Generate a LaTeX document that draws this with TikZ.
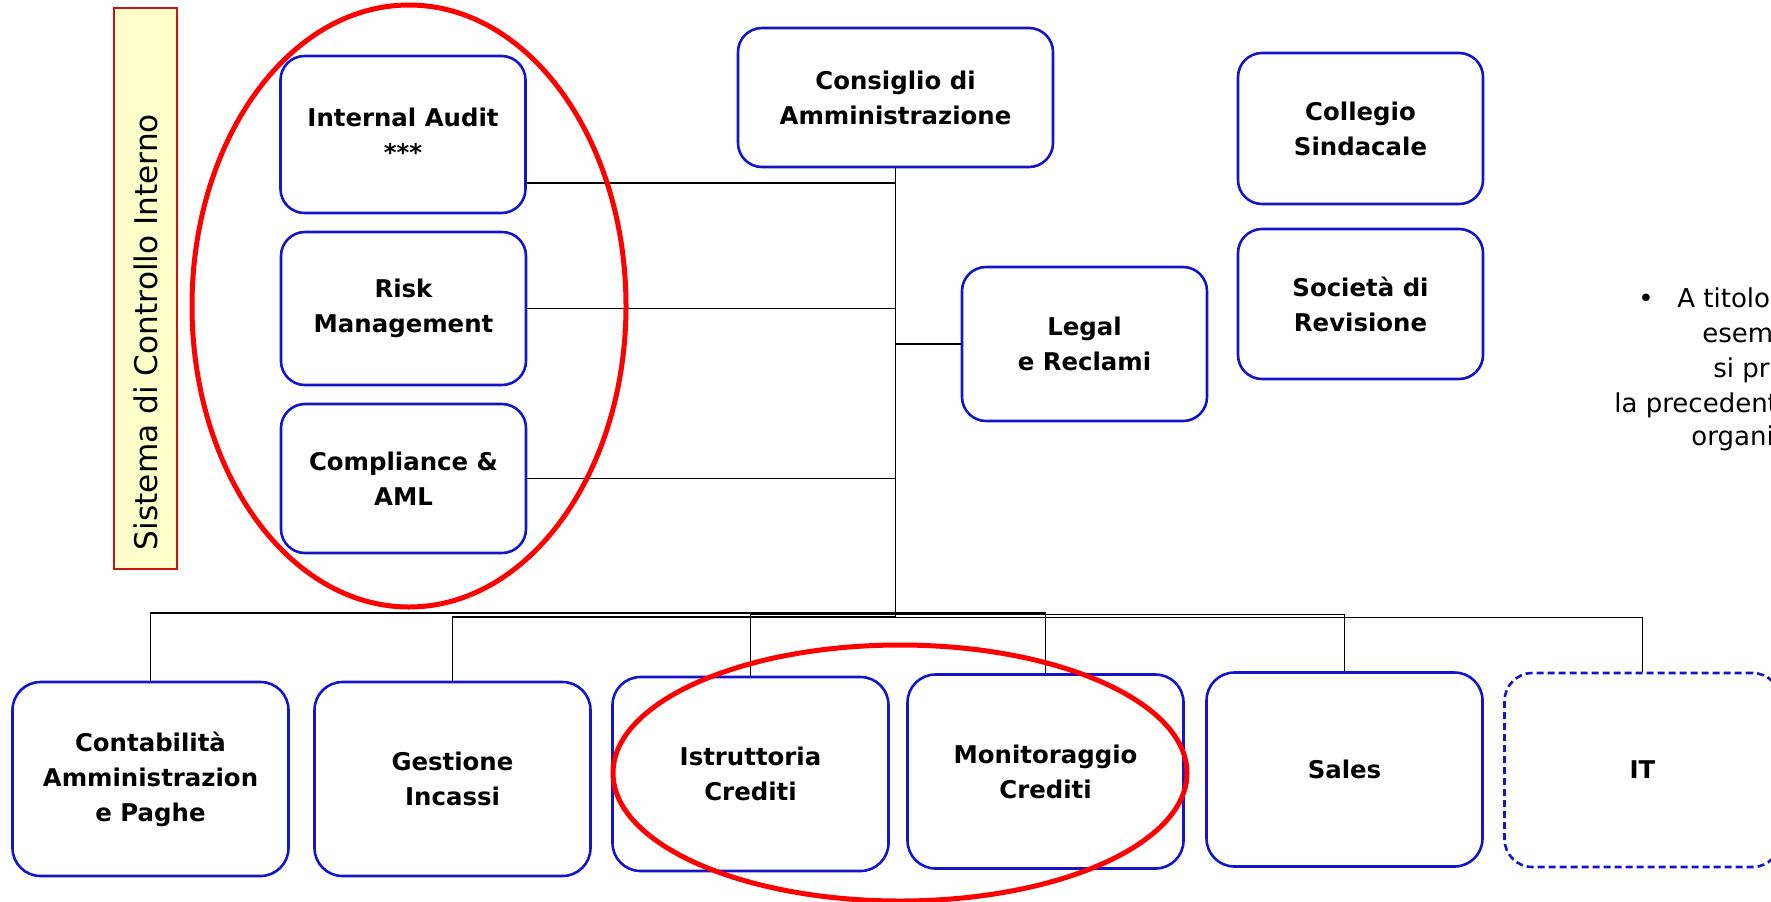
\documentclass[tikz,border=0pt]{standalone}
\usepackage{fontspec}
\setmainfont{DejaVu Sans}
\definecolor{unitblue}{RGB}{20,20,200}
\definecolor{ringred}{RGB}{255,0,0}
\definecolor{labelfill}{RGB}{255,255,204}
\definecolor{labeldraw}{RGB}{200,20,20}
\begin{document}
\begin{tikzpicture}[x=0.5pt,y=-0.5pt,
  unit/.style={draw=unitblue, line width=1.3pt, rounded corners=12pt, fill=white,
    align=center, inner sep=0pt, font=\bfseries\fontsize{12.2}{17.5}\selectfont},
  topunit/.style={unit, minimum width=122.5pt},
  lowunit/.style={unit, rounded corners=14pt, minimum width=138pt, minimum height=97pt},
  link/.style={draw=black, line width=0.9pt},
  ring/.style={draw=ringred, line width=2.5pt},
  note/.style={anchor=base west, inner sep=0pt, font=\fontsize{13}{17}\selectfont}]
\useasboundingbox (0,0) rectangle (1771,901);

% vertical label of the internal control system
\node[draw=labeldraw, line width=0.8pt, fill=labelfill, minimum width=31.5pt,
  minimum height=280.5pt, inner sep=0pt] (scilabel) at (145.5,288.5) {};
\node[rotate=90, inner sep=0pt, font=\fontsize{15.6}{18}\selectfont] (scitext) at (146,332)
  {Sistema di Controllo Interno};

% control functions
\node[topunit, minimum height=78.5pt] (ia) at (403,134.5) {Internal Audit\\***};
\node[topunit, minimum height=76.5pt] (rm) at (403.5,308.5) {Risk\\Management};
\node[topunit, minimum height=74.5pt] (ca) at (403.5,478.5) {Compliance \&\\AML};

% governing bodies
\node[unit, minimum width=157.5pt, minimum height=69.5pt] (cda) at (895.5,97.5)
  {Consiglio di\\Amministrazione};
\node[topunit, minimum height=75.5pt] (cs) at (1360.5,128.5) {Collegio\\Sindacale};
\node[topunit, minimum height=75pt] (sr) at (1360.5,304) {Società di\\Revisione};
\node[topunit, minimum height=77pt] (lr) at (1084.5,344) {Legal\\e Reclami};

% operating units
\node[lowunit] (co) at (150.5,779) {Contabilità\\Amministrazion\\e Paghe};
\node[lowunit] (gi) at (452.5,779) {Gestione\\Incassi};
\node[lowunit] (ic) at (750.5,774) {Istruttoria\\Crediti};
\node[lowunit] (mc) at (1045.5,771.5) {Monitoraggio\\Crediti};
\node[lowunit] (sa) at (1344.5,769.5) {Sales};
\node[lowunit, dashed, dash pattern=on 3.5pt off 2pt] (it) at (1642.5,770) {IT};

% staff connectors
\coordinate (iajoin) at (895.5,183);
\draw[link] (ia.east |- iajoin) -- (iajoin);
\draw[link] (rm.east) -- (rm.east -| cda.south);
\draw[link] (ca.east) -- (ca.east -| cda.south);
\draw[link] (lr.west) -- (lr.west -| cda.south);
\coordinate (trunkend) at (895.5,616);
\draw[link] (cda.south) -- (trunkend);

% bus to the operating units
\coordinate (bco) at (895.5,613);
\coordinate (bgi) at (895.5,617);
\coordinate (bic) at (895.5,614);
\coordinate (bmc) at (895.5,613);
\coordinate (bsa) at (895.5,614.5);
\coordinate (bit) at (895.5,617.5);
\draw[link] (bco) -| (co.north);
\draw[link] (bgi) -| (gi.north);
\draw[link] (bic) -| (ic.north);
\draw[link] (bmc) -| (mc.north);
\draw[link] (bsa) -| (sa.north);
\draw[link] (bit) -| (it.north);

% highlight rings
\draw[ring] (409,306) ellipse [x radius=217, y radius=301];
\draw[ring] (900,773) ellipse [x radius=287, y radius=128];

% side note, running past the right edge
\node[note] (n0) at (1638,307) {•};
\node[note] (n1) at (1677,307) {A titolo};
\node[note] (n2) at (1702,342) {esem};
\node[note] (n3) at (1713,377) {si pr};
\node[note] (n4) at (1614,412) {la precedent};
\node[note] (n5) at (1691,445) {organi};
\end{tikzpicture}
\end{document}
